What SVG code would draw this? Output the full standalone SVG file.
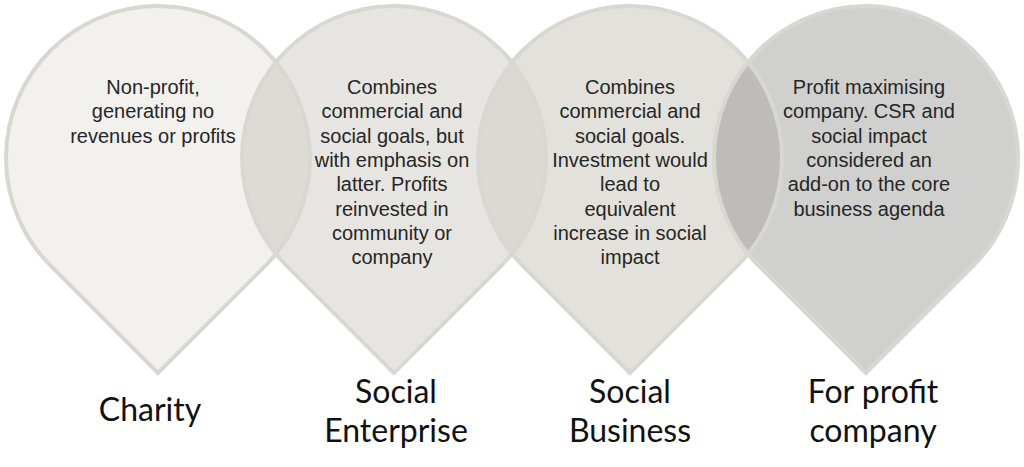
<svg xmlns="http://www.w3.org/2000/svg" xmlns:xlink="http://www.w3.org/1999/xlink" width="1024" height="467" viewBox="0 0 1024 467">
<style>
.desc{font-family:"Liberation Sans",Arial,sans-serif;font-size:20px;fill:#262626;text-anchor:middle}
.lbl{font-family:Lato,"Open Sans",sans-serif;font-size:32px;fill:#111;text-anchor:middle}
.edge{fill:none;stroke:#d9d7d2;stroke-width:4}
</style>
<defs>
<path id="t1" d="M158,373 L50.52,265.48 A152,152 0 1 1 265.48,265.48 Z"/>
<path id="t2" d="M394,373 L286.52,265.48 A152,152 0 1 1 501.48,265.48 Z"/>
<path id="t3" d="M630,373 L522.52,265.48 A152,152 0 1 1 737.48,265.48 Z"/>
<path id="t4" d="M866,373 L758.52,265.48 A152,152 0 1 1 973.48,265.48 Z"/>
<clipPath id="c1"><use xlink:href="#t1"/></clipPath>
<clipPath id="c2"><use xlink:href="#t2"/></clipPath>
<clipPath id="c3"><use xlink:href="#t3"/></clipPath>
</defs>
<rect width="1024" height="467" fill="#ffffff"/>
<g id="shapes">
<use xlink:href="#t1" fill="#f2f1ee"/>
<use xlink:href="#t2" fill="#e7e5e1"/>
<use xlink:href="#t3" fill="#e3e1dc"/>
<use xlink:href="#t4" fill="#d0d0cf"/>
<use xlink:href="#t2" fill="#dddbd6" clip-path="url(#c1)"/>
<use xlink:href="#t3" fill="#dbd9d4" clip-path="url(#c2)"/>
<use xlink:href="#t4" fill="#bdbcba" clip-path="url(#c3)"/>
</g>
<g id="connectors">
<use xlink:href="#t1" class="edge"/>
<use xlink:href="#t2" class="edge"/>
<use xlink:href="#t3" class="edge"/>
<use xlink:href="#t4" class="edge"/>
</g>
<g id="node-charity">
<text class="desc"><tspan x="153" y="94">Non-profit,</tspan><tspan x="153" y="118.3">generating no</tspan><tspan x="153" y="142.6">revenues or profits</tspan></text>
<text class="lbl" x="150" y="421">Charity</text>
</g>
<g id="node-social-enterprise">
<text class="desc"><tspan x="392" y="94">Combines</tspan><tspan x="392" y="118.3">commercial and</tspan><tspan x="392" y="142.6">social goals, but</tspan><tspan x="392" y="166.9">with emphasis on</tspan><tspan x="392" y="191.2">latter. Profits</tspan><tspan x="392" y="215.5">reinvested in</tspan><tspan x="392" y="239.8">community or</tspan><tspan x="392" y="264.1">company</tspan></text>
<text class="lbl"><tspan x="396" y="403">Social</tspan><tspan x="396" y="441.5">Enterprise</tspan></text>
</g>
<g id="node-social-business">
<text class="desc"><tspan x="630" y="94">Combines</tspan><tspan x="630" y="118.3">commercial and</tspan><tspan x="630" y="142.6">social goals.</tspan><tspan x="630" y="166.9">Investment would</tspan><tspan x="630" y="191.2">lead to</tspan><tspan x="630" y="215.5">equivalent</tspan><tspan x="630" y="239.8">increase in social</tspan><tspan x="630" y="264.1">impact</tspan></text>
<text class="lbl"><tspan x="630" y="403">Social</tspan><tspan x="630" y="441.5">Business</tspan></text>
</g>
<g id="node-for-profit">
<text class="desc"><tspan x="869" y="94">Profit maximising</tspan><tspan x="869" y="118.3">company. CSR and</tspan><tspan x="869" y="142.6">social impact</tspan><tspan x="869" y="166.9">considered an</tspan><tspan x="869" y="191.2">add-on to the core</tspan><tspan x="869" y="215.5">business agenda</tspan></text>
<text class="lbl"><tspan x="873" y="403">For profit</tspan><tspan x="873" y="441.5">company</tspan></text>
</g>
</svg>
